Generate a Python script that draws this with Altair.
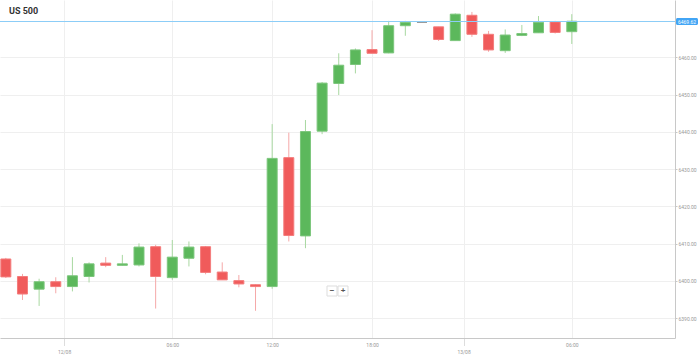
import altair as alt
import pandas as pd

# ---- data (hourly candles) ----
idx = list(range(35))
opens = [6405.9, 6401.2, 6397.8, 6399.8, 6398.5, 6401.2, 6404.8, 6404.2, 6404.3, 6409.2,
         6400.9, 6406.1, 6409.2, 6402.4, 6400.1, 6399.0, 6398.5, 6433.1, 6412.1, 6440.2,
         6453.0, 6458.1, 6462.1, 6461.2, 6468.5, 6469.4, 6468.2, 6464.5, 6471.3, 6466.2,
         6461.8, 6465.9, 6466.6, 6469.5, 6466.9]
highs = [6406.2, 6401.9, 6400.6, 6401.0, 6406.4, 6405.0, 6406.4, 6407.0, 6410.1, 6409.7,
         6411.0, 6410.6, 6409.4, 6405.0, 6401.6, 6399.1, 6442.1, 6439.8, 6443.2, 6453.4,
         6461.1, 6462.4, 6467.3, 6469.8, 6469.8, 6469.4, 6468.2, 6471.8, 6472.2, 6467.1,
         6467.5, 6468.7, 6471.1, 6469.8, 6471.6]
lows = [6400.8, 6394.9, 6393.3, 6396.7, 6397.2, 6399.6, 6403.7, 6404.1, 6403.9, 6392.6,
        6400.3, 6403.9, 6401.8, 6400.3, 6398.3, 6392.0, 6397.9, 6410.6, 6408.8, 6439.4,
        6449.9, 6455.7, 6461.1, 6461.1, 6465.8, 6469.4, 6464.4, 6464.5, 6465.5, 6461.5,
        6461.2, 6465.7, 6466.6, 6466.4, 6463.6]
closes = [6401.1, 6396.5, 6399.8, 6398.5, 6401.4, 6404.6, 6404.2, 6404.6, 6409.1, 6401.2,
          6406.4, 6409.1, 6402.3, 6400.3, 6399.2, 6398.5, 6432.9, 6412.2, 6440.1, 6453.1,
          6457.9, 6462.0, 6461.1, 6468.5, 6469.4, 6469.4, 6464.8, 6471.6, 6466.2, 6462.0,
          6466.0, 6466.4, 6469.4, 6466.7, 6469.7]

tick_values = [3.5, 10, 16, 22, 27.5, 34]
tick_labels = ["12/08", "06:00", "12:00", "18:00", "13/08", "06:00"]
date_ticks = [3.5, 27.5]
y_ticks = [6390, 6400, 6410, 6420, 6430, 6440, 6450, 6460]
current_price = [6469.62]
title_text = ["US 500"]
buttons = ["−", "+"]

df = pd.DataFrame({"i": idx, "open": opens, "high": highs, "low": lows, "close": closes})

xscale = alt.Scale(domain=[-0.05, 39.9], nice=False, zero=False)
yscale = alt.Scale(domain=[6384.7, 6475.4], nice=False, zero=False)

label_expr = ("[" + ",".join(f"'{l}'" for l in tick_labels) + "][indexof(["
              + ",".join(str(v) for v in tick_values) + "], datum.value)]")
date_test = " || ".join(f"datum.value == {v}" for v in date_ticks)

x_axis = alt.Axis(
    values=tick_values, labelExpr=label_expr, grid=True, gridColor="#efefef",
    domainColor="#c8c8c8", labelFontSize=5, labelColor="#999999", labelFont="Roboto",
    labelBaseline="top", tickSize=8, tickDash=[1, 1],
    tickColor={"condition": {"test": date_test, "value": "#bbbbbb"}, "value": "transparent"},
    labelPadding={"condition": {"test": date_test, "value": 3.8}, "value": -3.5},
    title=None, labelFlush=False, labelOverlap=False,
)
y_axis = alt.Axis(
    orient="right", values=y_ticks, format=".2f", grid=True, gridColor="#efefef",
    domainColor="#c8c8c8", tickColor="#c8c8c8", tickSize=2, labelPadding=1,
    labelFontSize=5, labelColor="#999999", labelFont="Roboto", title=None, labelFlush=False,
)

dirs = ["up", "down", "flat"]
wick_scale = alt.Scale(domain=dirs, range=["#a8d8a0", "#f5a8a8", "#999999"])
fill_scale = alt.Scale(domain=dirs, range=["#5cb85c", "#f05b5b", "#999999"])
stroke_scale = alt.Scale(domain=dirs, range=["#7cc67c", "#f47c7c", "#999999"])

base = alt.Chart(df).transform_calculate(
    dir="datum.close > datum.open ? 'up' : (datum.close < datum.open ? 'down' : 'flat')"
)

wicks = base.mark_rule(strokeWidth=1, clip=True).encode(
    x=alt.X("i:Q", scale=xscale, axis=x_axis),
    y=alt.Y("low:Q", scale=yscale, axis=y_axis),
    y2="high:Q",
    color=alt.Color("dir:N", scale=wick_scale, legend=None),
)

bodies = base.mark_bar(size=10, strokeWidth=1, clip=True).encode(
    x=alt.X("i:Q", scale=xscale),
    y=alt.Y("open:Q", scale=yscale),
    y2="close:Q",
    fill=alt.Fill("dir:N", scale=fill_scale, legend=None),
    stroke=alt.Stroke("dir:N", scale=stroke_scale, legend=None),
)

pdf = pd.DataFrame({"p": current_price})
price_rule = alt.Chart(pdf).mark_rect(color="#8ccdf7", yOffset=-0.5, y2Offset=0.5).encode(
    y=alt.Y("p:Q", scale=yscale), y2="p:Q", x=alt.value(0), x2=alt.value(675)
)
price_box = alt.Chart(pdf).mark_rect(
    color="#42a5f5", yOffset=-3.5, y2Offset=3.5, cornerRadius=1.5
).encode(
    x=alt.value(676), x2=alt.value(698), y=alt.Y("p:Q", scale=yscale), y2="p:Q"
)
price_text = alt.Chart(pdf).mark_text(
    color="white", fontSize=5, align="center", baseline="middle", font="Roboto"
).encode(
    x=alt.value(687), y=alt.Y("p:Q", scale=yscale), text=alt.Text("p:Q", format=".2f")
)

title = alt.Chart(pd.DataFrame({"t": title_text})).mark_text(
    align="left", baseline="alphabetic", fontSize=9, fontWeight="bold",
    color="#333333", font="Roboto"
).encode(x=alt.value(9), y=alt.value(14), text="t:N")

bdf = pd.DataFrame({"b": buttons})
btn_minus_box = alt.Chart(bdf.iloc[[0]]).mark_rect(
    fill="white", stroke="#dddddd", strokeWidth=1
).encode(x=alt.value(327), x2=alt.value(337), y=alt.value(286), y2=alt.value(296))
btn_plus_box = alt.Chart(bdf.iloc[[1]]).mark_rect(
    fill="white", stroke="#dddddd", strokeWidth=1
).encode(x=alt.value(338), x2=alt.value(348), y=alt.value(286), y2=alt.value(296))
btn_minus = alt.Chart(bdf.iloc[[0]]).mark_text(
    fontSize=8, fontWeight="bold", color="#555555", align="center", baseline="middle"
).encode(x=alt.value(332), y=alt.value(291), text="b:N")
btn_plus = alt.Chart(bdf.iloc[[1]]).mark_text(
    fontSize=8, fontWeight="bold", color="#555555", align="center", baseline="middle"
).encode(x=alt.value(343), y=alt.value(291), text="b:N")

chart = alt.layer(
    wicks, bodies, price_rule, price_box, price_text, title,
    btn_minus_box, btn_plus_box, btn_minus, btn_plus,
).properties(
    width=675, height=338,
    autosize=alt.AutoSizeParams(type="none"),
    padding={"left": 0, "top": 0, "right": 24, "bottom": 19},
).configure_view(strokeWidth=0)

chart.save("out.html", embed_options={"renderer": "svg", "actions": False})
